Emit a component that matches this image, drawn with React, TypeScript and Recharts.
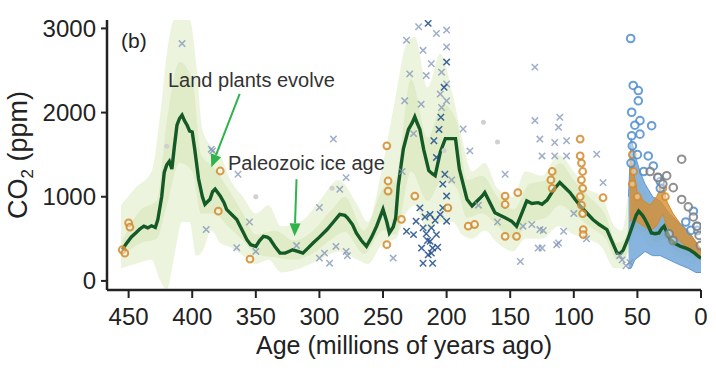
import React from 'react'
import {
  ComposedChart,
  Line,
  Area,
  Scatter,
  XAxis,
  YAxis,
  ReferenceLine,
  Label,
} from 'recharts'

const FONT = '"Liberation Sans", Arial, Helvetica, sans-serif'

// [age (Ma), CO2 ppm]
const co2Line: [number, number][] = [
  [455, 370], [452, 440], [448, 520], [444, 575], [441, 620], [438, 650], [435, 630],
  [432, 655], [429, 635], [427, 730], [424, 1000], [422, 1290], [420, 1380], [418, 1420],
  [416, 1330], [414, 1600], [412, 1850], [410, 1930], [408, 1970], [406, 1900], [404, 1850],
  [402, 1780], [400, 1770], [398, 1560], [395, 1210], [392, 1000], [390, 910], [388, 940],
  [386, 970], [384, 1060], [382, 1090], [380, 1050], [378, 1010], [375, 930], [373, 850],
  [369, 790], [365, 730], [361, 610], [357, 490], [354, 430], [350, 410], [347, 480],
  [344, 530], [341, 520], [339, 500], [335, 410], [331, 330], [327, 330], [324, 350],
  [321, 370], [317, 350], [313, 330], [309, 390], [305, 450], [300, 520], [294, 610],
  [289, 700], [284, 790], [280, 780], [278, 750], [274, 670], [271, 570], [267, 480],
  [263, 410], [259, 520], [255, 650], [250, 850], [247, 700], [245, 570], [242, 640],
  [240, 750], [238, 1130], [234, 1570], [230, 1800], [227, 1880], [225, 1950], [223, 1870],
  [221, 1800], [218, 1560], [214, 1310], [211, 1270], [209, 1250], [205, 1530], [201, 1690],
  [197, 1690], [193, 1690], [190, 1330], [187, 1150], [184, 970], [180, 890], [176, 950],
  [172, 1010], [170, 1050], [166, 930], [162, 810], [158, 780], [154, 750], [149, 710],
  [145, 650], [141, 800], [137, 950], [133, 920], [128, 930], [125, 910], [121, 960],
  [116, 1080], [111, 1170], [107, 1110], [103, 1050], [99, 970], [95, 890], [90, 810],
  [85, 730], [80, 670], [74, 610], [70, 470], [66, 330], [63, 330], [61, 370], [58, 480],
  [54, 650], [51, 780], [49, 830], [46, 780], [44, 730], [41, 640], [39, 570], [36, 560],
  [33, 570], [31, 620], [29, 650], [27, 580], [24, 490], [20, 440], [16, 410], [12, 390],
  [9, 370], [5, 330], [2, 290], [0, 270],
]

// [age, low, high] outer (light) uncertainty band
const outerBand: [number, number, number][] = [
  [456, 150, 900], [445, 200, 1100], [432, 250, 1300], [425, 0, 2000], [420, -100, 2700],
  [414, 300, 3100], [408, 700, 3100], [402, 700, 3100], [397, 300, 2600], [392, 350, 1800],
  [385, 600, 1600], [378, 450, 1500], [370, 400, 1200], [360, 300, 1000], [350, 200, 800],
  [340, 250, 900], [330, 100, 650], [315, 150, 700], [300, 250, 950], [285, 350, 1200],
  [270, 250, 900], [262, 200, 700], [250, 450, 1400], [240, 500, 2200], [232, 800, 2800],
  [225, 900, 2900], [215, 600, 2300], [205, 700, 2700], [195, 700, 2200], [188, 550, 1700],
  [180, 500, 1300], [170, 600, 1400], [160, 450, 1100], [148, 350, 1000], [138, 500, 1300],
  [125, 500, 1250], [112, 650, 1500], [100, 550, 1300], [90, 500, 1100], [78, 400, 1000],
  [68, 150, 650], [62, 150, 600], [55, 450, 1200], [48, 550, 1200], [40, 400, 950],
  [30, 400, 900], [20, 300, 650], [10, 220, 500], [0, 180, 350],
]

// [age, low, high] inner band
const innerBand: [number, number, number][] = [
  [455, 300, 480], [440, 450, 850], [428, 500, 950], [420, 900, 1900], [410, 1400, 2600],
  [400, 1300, 2400], [393, 800, 1500], [383, 800, 1350], [372, 650, 1100], [360, 480, 800],
  [350, 320, 550], [335, 280, 600], [320, 250, 480], [305, 330, 600], [290, 500, 850],
  [280, 580, 1000], [265, 320, 600], [250, 600, 1100], [240, 550, 1200], [228, 1300, 2400],
  [215, 950, 1700], [203, 1200, 2100], [192, 1100, 1900], [184, 750, 1200], [172, 800, 1250],
  [160, 650, 1000], [147, 500, 850], [135, 700, 1150], [122, 750, 1200], [111, 900, 1400],
  [100, 800, 1200], [88, 650, 1000], [75, 500, 780], [66, 250, 450], [60, 280, 500],
  [52, 620, 1000], [44, 580, 900], [35, 450, 700], [29, 500, 800], [20, 360, 550],
  [10, 300, 450], [0, 230, 320],
]

// Cenozoic dense proxy clouds
const blueCloud: [number, number, number][] = [
  [57, 150, 1000], [55, 150, 1700], [52, 250, 1500], [48, 300, 1300], [44, 350, 1150],
  [38, 300, 1000], [32, 300, 950], [25, 250, 800], [18, 200, 700], [10, 150, 600],
  [4, 100, 450], [0, 100, 380],
]
const orangeCloud: [number, number, number][] = [
  [56, 700, 1500], [53, 750, 1300], [50, 700, 1050], [45, 650, 950], [40, 600, 900],
  [35, 650, 1000], [30, 800, 1150], [27, 650, 950], [22, 550, 800], [15, 450, 650],
  [8, 350, 550], [0, 250, 380],
]

// proxy points [age, CO2]
const lightCrosses: [number, number][] = [
  [408, 2820], [365, 395], [364, 1267], [384, 1545], [385, 1565], [389, 610], [289, 1685],
  [279, 1227], [284, 1088], [300, 872], [287, 410], [279, 350], [292, 211], [300, 271],
  [242, 271], [231.5, 2860], [222, 3020], [208, 2940], [200, 2980], [200, 2780], [218.5, 2740],
  [212, 2580], [229, 2460], [216, 2440], [204, 2480], [200, 2340], [233, 2140], [205, 2220],
  [204, 2060], [200, 2140], [187, 1805], [181.7, 1545], [130.6, 2540], [130.6, 1905],
  [111, 1945], [112, 1825], [126.7, 1685], [115, 1645], [105.7, 1665], [125, 1485],
  [115, 1485], [105.7, 1485], [82, 1505], [154, 1267], [77, 1168], [126.7, 610], [128, 390],
  [112, 450], [142, 231], [133, 670], [124, 600], [108, 590], [113.5, 430], [125, 390],
  [62, 250], [59, 180], [56, 220], [64, 300], [235, 1300], [226, 1750], [220, 2100],
  [196, 1200], [175, 900], [160, 700], [140, 650], [100, 800], [90, 500], [278, 300],
  [296, 330], [318, 420], [355, 700], [350, 350],
]
const darkCrosses: [number, number][] = [
  [214.5, 3060], [204.5, 1945], [200, 1008], [203, 868], [213, 790], [212, 630], [213, 470],
  [211, 390], [214.5, 310], [208, 550], [200, 710], [205, 790], [221, 868], [218.5, 630],
  [219.7, 390], [218.5, 210], [211, 210], [226, 550], [224, 710], [231.5, 590], [201.4, 1267],
  [208, 1467], [210, 1665], [206, 1800], [202, 2300], [200, 2600], [215, 480], [209, 720],
  [216, 560], [212, 330], [207, 400], [217, 760], [203, 1150],
]
const orangeRings: [number, number][] = [
  [378, 1306], [379.5, 828], [354.6, 259], [455, 370], [453, 330], [450, 690], [449, 640],
  [247, 1605], [246, 1187], [246, 1067], [225, 1008], [199, 868], [235.5, 730], [247, 430],
  [183, 650], [178, 670], [95, 1685], [95, 1485], [94, 1400], [93, 1300], [94, 1200],
  [93, 1100], [95, 1000], [94, 900], [93, 800], [154, 1008], [154, 908], [144, 1048],
  [154, 530], [145, 530], [77, 988], [92.6, 610], [92.6, 550], [117, 1300], [118, 1200],
  [117, 1100], [54, 1500], [53, 1300], [54, 1150], [50, 1000], [30, 1100], [28, 1000],
]
const blueRings: [number, number][] = [
  [55.3, 2880], [53.3, 2322], [49.3, 2262], [49.3, 2140], [54.5, 2004], [48, 1904],
  [38.8, 1844], [54.5, 1724], [48, 1744], [54, 1604], [41.5, 1485], [37.5, 1366],
  [33.6, 1227], [32, 1180], [32, 1100], [6, 828], [3.4, 650], [2.6, 600], [52, 1850],
  [55, 1400], [50, 1500], [45, 1300], [12, 700], [8, 600],
]
const grayRings: [number, number][] = [
  [40, 1300], [34, 1230], [30, 1150], [21.8, 1108], [15.2, 1446], [15.2, 968], [10, 880],
  [6, 760], [3, 650], [1.5, 540], [0.5, 420], [25, 560], [22, 480], [27, 1250],
]
const grayDots: [number, number][] = [
  [171, 1885], [202, 1550], [160, 1650], [350, 1000], [420, 1600], [290, 1100],
]

const yTicks = [0, 1000, 2000, 3000]
const xTicks = [0, 50, 100, 150, 200, 250, 300, 350, 400, 450]

const lineRows = co2Line.map(([age, co2]) => ({ age, co2 }))
const bandRows = (b: [number, number, number][]) =>
  b.map(([age, lo, hi]) => ({ age, range: [lo, hi] }))
const ptRows = (p: [number, number][]) => p.map(([age, co2]) => ({ age, co2 }))

function cross(color: string, s: number, op: number) {
  return (props: any) => {
    const { cx, cy } = props
    return (
      <path
        d={`M${cx - s},${cy - s}L${cx + s},${cy + s}M${cx - s},${cy + s}L${cx + s},${cy - s}`}
        stroke={color}
        strokeOpacity={op}
        strokeWidth={1.5}
        fill="none"
      />
    )
  }
}

function ring(color: string, r: number) {
  return (props: any) => (
    <circle
      cx={props.cx}
      cy={props.cy}
      r={r}
      stroke={color}
      strokeOpacity={0.85}
      strokeWidth={2}
      fill="#fff"
      fillOpacity={0.4}
    />
  )
}

function dot(color: string) {
  return (props: any) => <circle cx={props.cx} cy={props.cy} r={2.5} fill={color} />
}

function Arrow(props: any) {
  const { x1, y1, x2, y2 } = props
  if ([x1, y1, x2, y2].some((v) => typeof v !== 'number')) return null
  const ang = Math.atan2(y2 - y1, x2 - x1)
  const len = 13
  const hw = 5.5
  const bx = x2 - len * Math.cos(ang)
  const by = y2 - len * Math.sin(ang)
  const px = -Math.sin(ang) * hw
  const py = Math.cos(ang) * hw
  return (
    <g>
      <line x1={x1} y1={y1} x2={bx} y2={by} stroke="#2fb34a" strokeWidth={2} />
      <path d={`M${x2},${y2}L${bx + px},${by + py}L${bx - px},${by - py}Z`} fill="#2fb34a" />
    </g>
  )
}

function YTitle() {
  return (
    <text
      x={27}
      y={155}
      transform="rotate(-90 27 155)"
      textAnchor="middle"
      fontSize={27}
      fontFamily={FONT}
      fill="#222"
    >
      CO
      <tspan fontSize={17} dy={6}>2</tspan>
      <tspan dy={-6}> (ppm)</tspan>
    </text>
  )
}

export default function App() {
  const axisLine = { stroke: '#222', strokeWidth: 2.5 }
  const tickLine = { stroke: '#222', strokeWidth: 2 }
  const tick = { fontSize: 24, fill: '#222', fontFamily: FONT }
  return (
    <div style={{ position: 'absolute', left: 0, top: 0, width: 716, height: 383, background: '#fff' }}>
      <ComposedChart width={716} height={383} margin={{ top: 20, right: 15, bottom: 0, left: 0 }}>
        <XAxis
          dataKey="age"
          type="number"
          domain={[0, 467]}
          reversed
          allowDataOverflow
          ticks={xTicks}
          interval={0}
          height={93}
          tickSize={8}
          tickMargin={10}
          axisLine={axisLine}
          tickLine={tickLine}
          tick={tick}
        >
          <Label
            value="Age (millions of years ago)"
            position="insideTop"
            offset={46}
            style={{ fontSize: 25, fill: '#222', fontFamily: FONT }}
          />
        </XAxis>
        <YAxis
          type="number"
          domain={[-108, 3100]}
          allowDataOverflow
          ticks={yTicks}
          interval={0}
          width={107}
          tickSize={6}
          tickMargin={5}
          axisLine={axisLine}
          tickLine={tickLine}
          tick={tick}
        >
          <Label content={YTitle} />
        </YAxis>

        <Area
          data={bandRows(outerBand)}
          dataKey="range"
          type="monotone"
          stroke="none"
          fill="#e9f1d6"
          fillOpacity={0.8}
          isAnimationActive={false}
        />
        <Area
          data={bandRows(innerBand)}
          dataKey="range"
          type="monotone"
          stroke="none"
          fill="#d9e8bd"
          fillOpacity={0.7}
          isAnimationActive={false}
        />

        <Scatter data={ptRows(grayDots)} dataKey="co2" shape={dot('#d0d0d0')} isAnimationActive={false} />
        <Scatter data={ptRows(lightCrosses)} dataKey="co2" shape={cross('#7f93b6', 3.2, 0.75)} isAnimationActive={false} />
        <Scatter data={ptRows(darkCrosses)} dataKey="co2" shape={cross('#1f4c88', 3.2, 0.85)} isAnimationActive={false} />

        <Area
          data={bandRows(blueCloud)}
          dataKey="range"
          type="linear"
          stroke="#5b97d2"
          strokeWidth={1}
          fill="#6aa2d8"
          fillOpacity={0.8}
          isAnimationActive={false}
        />
        <Area
          data={bandRows(orangeCloud)}
          dataKey="range"
          type="linear"
          stroke="#d48a2c"
          strokeWidth={1}
          fill="#d98f2e"
          fillOpacity={0.8}
          isAnimationActive={false}
        />

        <Scatter data={ptRows(orangeRings)} dataKey="co2" shape={ring('#d48a2c', 3.4)} isAnimationActive={false} />
        <Scatter data={ptRows(blueRings)} dataKey="co2" shape={ring('#4d8dce', 3.8)} isAnimationActive={false} />
        <Scatter data={ptRows(grayRings)} dataKey="co2" shape={ring('#7c7c7c', 3.8)} isAnimationActive={false} />

        <Line
          data={lineRows}
          dataKey="co2"
          type="linear"
          stroke="#145a27"
          strokeWidth={3.4}
          dot={false}
          isAnimationActive={false}
        />

        <ReferenceLine segment={[{ x: 362.7, y: 2223 }, { x: 385, y: 1350 }]} shape={Arrow} ifOverflow="visible" />
        <ReferenceLine segment={[{ x: 318, y: 1207 }, { x: 319.5, y: 530 }]} shape={Arrow} ifOverflow="visible" />
      </ComposedChart>
      <svg
        width={716}
        height={383}
        style={{ position: 'absolute', left: 0, top: 0, pointerEvents: 'none' }}
      >
        <text x={121} y={48} fontSize={21} fontFamily={FONT} fill="#222">(b)</text>
        <text x={168} y={87} fontSize={20} fontFamily={FONT} fill="#333">Land plants evolve</text>
        <text x={228} y={170} fontSize={20} fontFamily={FONT} fill="#333">Paleozoic ice age</text>
      </svg>
    </div>
  )
}
